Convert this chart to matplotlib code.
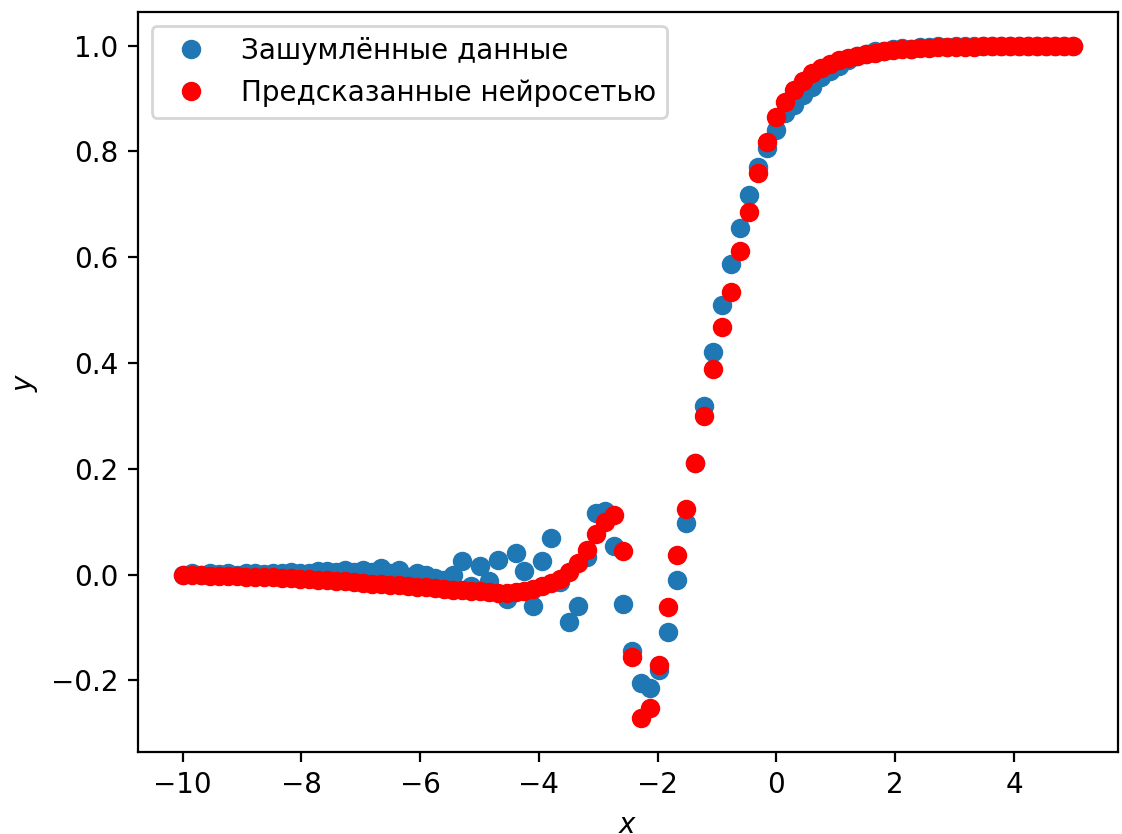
import numpy as np
import matplotlib
matplotlib.use("Agg")
import matplotlib.pyplot as plt

# сетка по x: 100 равноотстоящих точек от -10 до 5
x = np.linspace(-10, 5, 100)

# зашумлённые данные
y_noisy = [
    0.000, 0.002, -0.001, 0.003, 0.001, 0.002, 0.000, 0.003, 0.002, 0.001,
    0.003, 0.002, 0.004, 0.002, 0.003, 0.006, 0.007, 0.005, 0.008, 0.004,
    0.009, 0.004, 0.013, 0.002, 0.008, -0.004, 0.003, 0.000, -0.006, -0.010,
    0.000, 0.025, -0.022, 0.017, -0.013, 0.028, -0.046, 0.041, 0.006, -0.060,
    0.025, 0.070, -0.015, -0.089, -0.060, 0.034, 0.117, 0.121, 0.053, -0.055,
    -0.145, -0.206, -0.215, -0.180, -0.108, -0.010, 0.097, 0.210, 0.318, 0.420,
    0.509, 0.588, 0.656, 0.718, 0.771, 0.807, 0.841, 0.873, 0.888, 0.907,
    0.921, 0.940, 0.952, 0.962, 0.972, 0.981, 0.985, 0.989, 0.990, 0.993,
    0.996, 0.994, 0.998, 0.997, 0.999, 0.998, 1.000, 0.999, 1.000, 0.999,
    1.000, 1.000, 1.000, 1.000, 1.000, 1.000, 1.000, 1.000, 1.000, 1.000,
]

# предсказание нейросети
y_pred = [
    0.000, -0.001, -0.001, -0.002, -0.002, -0.003, -0.003, -0.004, -0.004, -0.005,
    -0.005, -0.006, -0.007, -0.008, -0.009, -0.010, -0.011, -0.012, -0.013, -0.014,
    -0.016, -0.017, -0.018, -0.019, -0.020, -0.022, -0.023, -0.024, -0.026, -0.027,
    -0.029, -0.030, -0.031, -0.032, -0.033, -0.034, -0.034, -0.033, -0.031, -0.027,
    -0.022, -0.016, -0.008, 0.004, 0.021, 0.047, 0.076, 0.100, 0.113, 0.044,
    -0.155, -0.272, -0.253, -0.172, -0.062, 0.036, 0.123, 0.210, 0.299, 0.388,
    0.468, 0.535, 0.611, 0.686, 0.760, 0.818, 0.865, 0.894, 0.917, 0.934,
    0.948, 0.958, 0.966, 0.972, 0.977, 0.981, 0.984, 0.987, 0.989, 0.991,
    0.993, 0.994, 0.995, 0.996, 0.997, 0.997, 0.998, 0.998, 0.998, 0.999,
    0.999, 0.999, 0.999, 1.000, 1.000, 1.000, 1.000, 1.000, 1.000, 1.000,
]

fig = plt.figure(figsize=(5.61, 4.17), dpi=200)
ax = fig.add_axes([0.1230, 0.0983, 0.8734, 0.8873])

ax.plot(x, y_noisy, 'o', label='Зашумлённые данные')
ax.plot(x, y_pred, 'o', color='red', label='Предсказанные нейросетью')
ax.set_xlabel('$x$')
ax.set_ylabel('$y$')
ax.legend(loc='upper left')

fig.savefig('out.png', dpi=200)
